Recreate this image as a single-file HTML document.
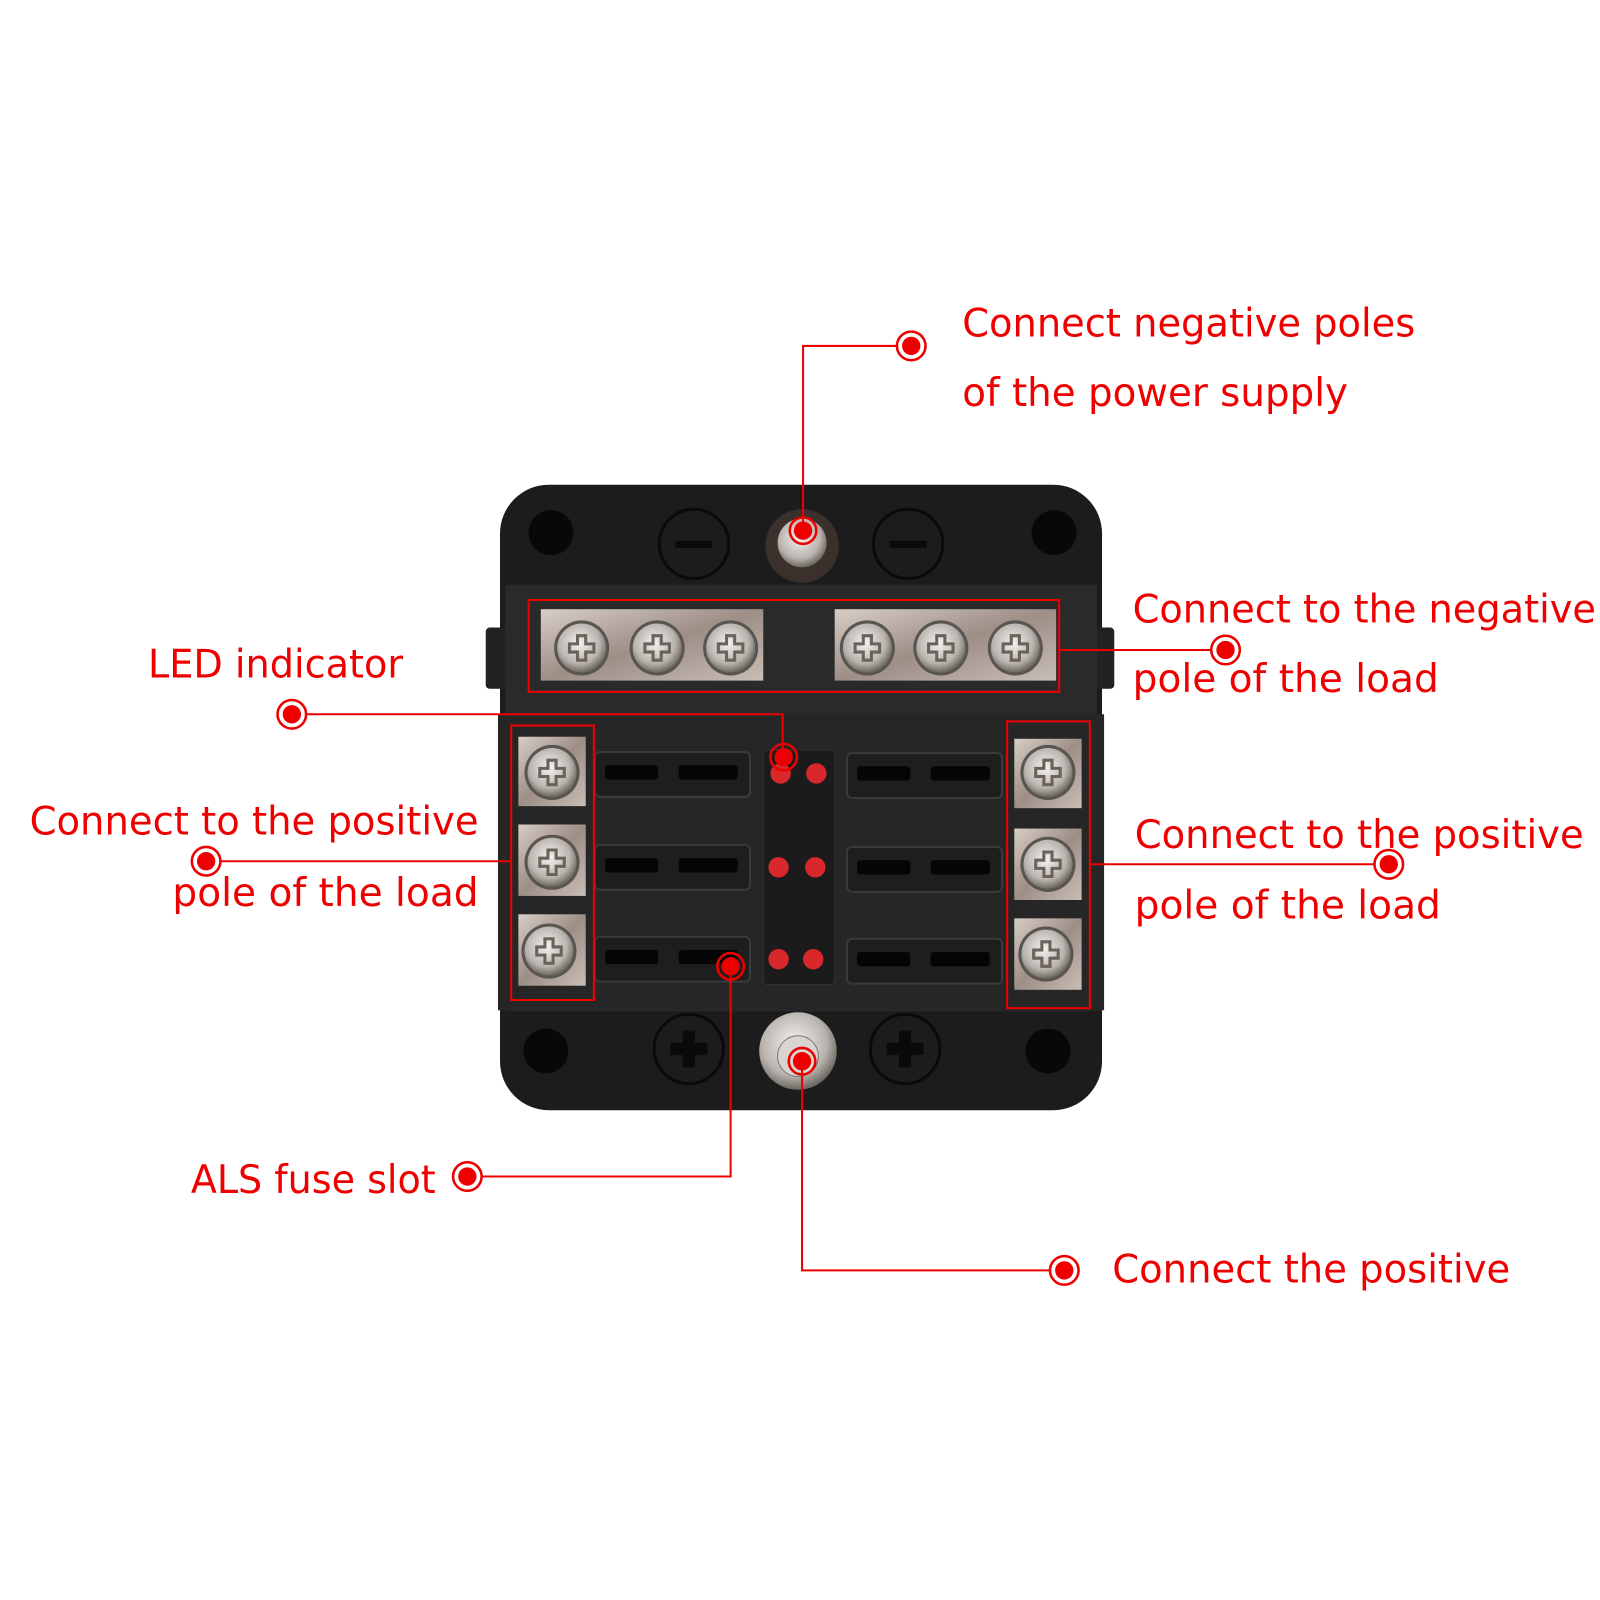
<!DOCTYPE html>
<html><head><meta charset="utf-8"><style>html,body{margin:0;padding:0;background:#fff}svg{display:block}</style></head><body>
<svg width="1600" height="1600" viewBox="0 0 1568 1568" xmlns="http://www.w3.org/2000/svg">
<defs>
<radialGradient id="sc" cx="45%" cy="40%" r="60%"><stop offset="0" stop-color="#f4f1ee"/><stop offset="0.7" stop-color="#b9b3ae"/><stop offset="1" stop-color="#6d6761"/></radialGradient>
<linearGradient id="bar" x1="0" y1="0" x2="1" y2="1"><stop offset="0" stop-color="#d8cec6"/><stop offset="0.5" stop-color="#9d8e86"/><stop offset="1" stop-color="#c8beb6"/></linearGradient>
<g id="screw"><circle r="27" fill="#5a5550"/><circle r="24" fill="url(#sc)"/><path d="M-4,-12h8v8h8v8h-8v8h-8v-8h-8v-8h8z" fill="none" stroke="#6a625b" stroke-width="3"/></g>
<g id="mk"><circle r="14" fill="#fff" stroke="#e00" stroke-width="2.5"/><circle r="9" fill="#e00"/></g>
<g id="mk2"><circle r="13" fill="none" stroke="#e00" stroke-width="2.5"/><circle r="9" fill="#e00"/></g>
<g id="slot"><rect x="0" y="0" width="152" height="44" rx="5" fill="#1e1e1f" stroke="#3a3a3a" stroke-width="2"/><rect x="10" y="13" width="52" height="14" rx="3" fill="#050505"/><rect x="82" y="13" width="58" height="14" rx="3" fill="#050505"/></g>
</defs>
<rect width="1568" height="1568" fill="#fff"/>
<!-- box -->
<rect x="490" y="475" width="590" height="613" rx="48" fill="#1c1c1d"/>
<rect x="476" y="615" width="20" height="60" rx="4" fill="#222"/>
<rect x="1072" y="615" width="20" height="60" rx="4" fill="#222"/>
<rect x="495" y="573" width="580" height="418" fill="#2a2a2b"/>
<rect x="488" y="700" width="594" height="290" fill="#262627"/>
<circle cx="540" cy="522" r="22" fill="#080808"/><circle cx="1033" cy="522" r="22" fill="#080808"/>
<circle cx="535" cy="1030" r="22" fill="#080808"/><circle cx="1027" cy="1030" r="22" fill="#080808"/>
<circle cx="680" cy="533" r="34" fill="none" stroke="#0a0a0a" stroke-width="3"/><rect x="662" y="530" width="36" height="7" fill="#0a0a0a"/>
<circle cx="890" cy="533" r="34" fill="none" stroke="#0a0a0a" stroke-width="3"/><rect x="872" y="530" width="36" height="7" fill="#0a0a0a"/>
<circle cx="786" cy="535" r="36" fill="#3b302c"/><circle cx="786" cy="532" r="24" fill="url(#sc)"/>
<circle cx="675" cy="1028" r="34" fill="none" stroke="#0a0a0a" stroke-width="3"/><path d="M669,1010h12v12h12v12h-12v12h-12v-12h-12v-12h12z" fill="#0a0a0a"/>
<circle cx="887" cy="1028" r="34" fill="none" stroke="#0a0a0a" stroke-width="3"/><path d="M881,1010h12v12h12v12h-12v12h-12v-12h-12v-12h12z" fill="#0a0a0a"/>
<circle cx="782" cy="1030" r="38" fill="url(#sc)"/><circle cx="782" cy="1035" r="20" fill="#d8d4d0" stroke="#777"/>
<!-- bus bars -->
<rect x="530" y="597" width="218" height="70" fill="url(#bar)"/>
<rect x="818" y="597" width="217" height="70" fill="url(#bar)"/>
<use href="#screw" x="570" y="635"/><use href="#screw" x="644" y="635"/><use href="#screw" x="716" y="635"/>
<use href="#screw" x="850" y="635"/><use href="#screw" x="922" y="635"/><use href="#screw" x="995" y="635"/>
<!-- terminals -->
<rect x="508" y="722" width="66" height="68" fill="url(#bar)"/><rect x="508" y="808" width="66" height="70" fill="url(#bar)"/><rect x="508" y="896" width="66" height="70" fill="url(#bar)"/>
<rect x="994" y="724" width="66" height="68" fill="url(#bar)"/><rect x="994" y="812" width="66" height="70" fill="url(#bar)"/><rect x="994" y="900" width="66" height="70" fill="url(#bar)"/>
<use href="#screw" x="541" y="757"/><use href="#screw" x="541" y="845"/><use href="#screw" x="538" y="932"/>
<use href="#screw" x="1027" y="757"/><use href="#screw" x="1027" y="847"/><use href="#screw" x="1025" y="935"/>
<!-- slots -->
<use href="#slot" x="583" y="737"/><use href="#slot" x="583" y="828"/><use href="#slot" x="583" y="918"/>
<use href="#slot" x="830" y="738"/><use href="#slot" x="830" y="830"/><use href="#slot" x="830" y="920"/>
<rect x="748" y="735" width="70" height="230" rx="4" fill="#1b1b1c" stroke="#333"/>
<g fill="#d9282c"><circle cx="765" cy="758" r="10"/><circle cx="800" cy="758" r="10"/><circle cx="763" cy="850" r="10"/><circle cx="799" cy="850" r="10"/><circle cx="763" cy="940" r="10"/><circle cx="797" cy="940" r="10"/></g>
<!-- red boxes -->
<g fill="none" stroke="#e00" stroke-width="2">
<rect x="518" y="588" width="520" height="90"/>
<rect x="501" y="711" width="81" height="269"/>
<rect x="987" y="707" width="81" height="281"/>
<polyline points="880,339 787,339 787,520"/>
<line x1="1038" y1="637" x2="1190" y2="637"/>
<polyline points="300,700 767,700 767,742"/>
<line x1="216" y1="844" x2="501" y2="844"/>
<line x1="1068" y1="847" x2="1347" y2="847"/>
<polyline points="472,1153 716,1153 716,947"/>
<polyline points="786,1040 786,1245 1030,1245"/>
</g>
<use href="#mk" x="893" y="339"/><use href="#mk2" x="787" y="520"/>
<use href="#mk" x="1201" y="637"/>
<use href="#mk" x="286" y="700"/><use href="#mk2" x="768" y="742"/>
<use href="#mk" x="202" y="844"/><use href="#mk" x="1361" y="847"/>
<use href="#mk" x="458" y="1153"/><use href="#mk2" x="716" y="947"/>
<use href="#mk2" x="786" y="1040"/><use href="#mk" x="1043" y="1245"/>
<g fill="#e00" font-family="DejaVu Sans, Liberation Sans, sans-serif" font-size="38">
<text x="943" y="330" textLength="444" lengthAdjust="spacingAndGlyphs">Connect negative poles</text>
<text x="943" y="398" textLength="378" lengthAdjust="spacingAndGlyphs">of the power supply</text>
<text x="1110" y="610" textLength="454" lengthAdjust="spacingAndGlyphs">Connect to the negative</text>
<text x="1110" y="678" textLength="300" lengthAdjust="spacingAndGlyphs">pole of the load</text>
<text x="145" y="664" textLength="250" lengthAdjust="spacingAndGlyphs">LED indicator</text>
<text x="29" y="818" textLength="440" lengthAdjust="spacingAndGlyphs">Connect to the positive</text>
<text x="169" y="888" textLength="300" lengthAdjust="spacingAndGlyphs">pole of the load</text>
<text x="1112" y="831" textLength="440" lengthAdjust="spacingAndGlyphs">Connect to the positive</text>
<text x="1112" y="900" textLength="300" lengthAdjust="spacingAndGlyphs">pole of the load</text>
<text x="187" y="1169" textLength="240" lengthAdjust="spacingAndGlyphs">ALS fuse slot</text>
<text x="1090" y="1257" textLength="390" lengthAdjust="spacingAndGlyphs">Connect the positive</text>
</g>
</svg>
</body></html>
